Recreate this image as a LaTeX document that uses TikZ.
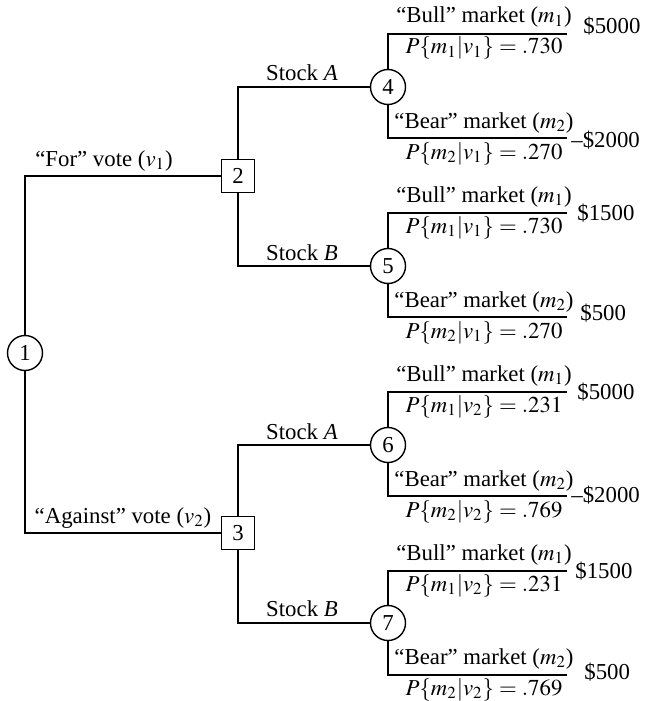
\documentclass[tikz,border=0pt]{standalone}
\usepackage{mathptmx}
\usepackage{fontspec}
\setmainfont{Liberation Serif}
\usetikzlibrary{positioning}

\begin{document}
\begin{tikzpicture}[
    x=0.5pt, y=-0.5pt,
    font=\fontsize{11.4}{13.7}\selectfont,
    decision/.style={rectangle, draw=black, line width=0.7pt, minimum size=16.5pt, inner sep=0pt},
    chance/.style={circle, draw=black, line width=0.7pt, minimum size=17.5pt, inner sep=0pt},
    branch/.style={line width=0.7pt},
    lbl/.style={anchor=base, inner sep=0pt},
    pay/.style={anchor=west, inner sep=0pt}
]
\useasboundingbox (0,0) rectangle (652,701);
% decision and chance nodes
\node[chance] (n1) at (25,353) {1};
\node[decision] (n2) at (238,176) {2};
\node[decision] (n3) at (238,533) {3};
\node[chance] (n4) at (388,87) {4};
\node[chance] (n5) at (388,266) {5};
\node[chance] (n6) at (388,445) {6};
\node[chance] (n7) at (388,623) {7};
% ends of the market branches
\coordinate (e4a) at (567,34);  \coordinate (e4b) at (567,138);
\coordinate (e5a) at (567,213); \coordinate (e5b) at (567,317);
\coordinate (e6a) at (567,392); \coordinate (e6b) at (567,496);
\coordinate (e7a) at (567,571); \coordinate (e7b) at (567,675);
% branches
\draw[branch] (n1) |- (n2); \draw[branch] (n1) |- (n3);
\draw[branch] (n2) |- (n4); \draw[branch] (n2) |- (n5);
\draw[branch] (n3) |- (n6); \draw[branch] (n3) |- (n7);
\draw[branch] (n4) |- (e4a); \draw[branch] (n4) |- (e4b);
\draw[branch] (n5) |- (e5a); \draw[branch] (n5) |- (e5b);
\draw[branch] (n6) |- (e6a); \draw[branch] (n6) |- (e6b);
\draw[branch] (n7) |- (e7a); \draw[branch] (n7) |- (e7b);
% vote and stock labels
\node[lbl] (lfor) at (104,166) {``For'' vote ($v_1$)};
\node[lbl] (lagainst) at (123,523) {``Against'' vote ($v_2$)};
\node[lbl] (la1) at (302,81) {Stock \textit{A}};
\node[lbl] (lb1) at (302,260) {Stock \textit{B}};
\node[lbl] (la2) at (302,439) {Stock \textit{A}};
\node[lbl] (lb2) at (302,616) {Stock \textit{B}};
% market labels
\node[lbl] (m4a) at (484,23) {``Bull'' market ($m_1$)};
\node[lbl] (q4a) at (484,54) {$P\{m_1|v_1\} = .730$};
\node[lbl] (m4b) at (484,128) {``Bear'' market ($m_2$)};
\node[lbl] (q4b) at (484,159) {$P\{m_2|v_1\} = .270$};
\node[lbl] (m5a) at (484,202) {``Bull'' market ($m_1$)};
\node[lbl] (q5a) at (484,233) {$P\{m_1|v_1\} = .730$};
\node[lbl] (m5b) at (484,307) {``Bear'' market ($m_2$)};
\node[lbl] (q5b) at (484,338) {$P\{m_2|v_1\} = .270$};
\node[lbl] (m6a) at (484,381) {``Bull'' market ($m_1$)};
\node[lbl] (q6a) at (484,412) {$P\{m_1|v_2\} = .231$};
\node[lbl] (m6b) at (484,486) {``Bear'' market ($m_2$)};
\node[lbl] (q6b) at (484,517) {$P\{m_2|v_2\} = .769$};
\node[lbl] (m7a) at (484,560) {``Bull'' market ($m_1$)};
\node[lbl] (q7a) at (484,591) {$P\{m_1|v_2\} = .231$};
\node[lbl] (m7b) at (484,664) {``Bear'' market ($m_2$)};
\node[lbl] (q7b) at (484,695) {$P\{m_2|v_2\} = .769$};
% payoffs
\node[pay, right=8pt of e4a, yshift=4pt] (p4a) {\$5000};
\node[pay, right=2pt of e4b, yshift=-1pt] (p4b) {--\$2000};
\node[pay, right=5pt of e5a] (p5a) {\$1500};
\node[pay, right=6.5pt of e5b, yshift=2pt] (p5b) {\$500};
\node[pay, right=5pt of e6a] (p6a) {\$5000};
\node[pay, right=2pt of e6b, yshift=0.5pt] (p6b) {--\$2000};
\node[pay, right=4pt of e7a] (p7a) {\$1500};
\node[pay, right=8.5pt of e7b, yshift=1.5pt] (p7b) {\$500};
\end{tikzpicture}
\end{document}
